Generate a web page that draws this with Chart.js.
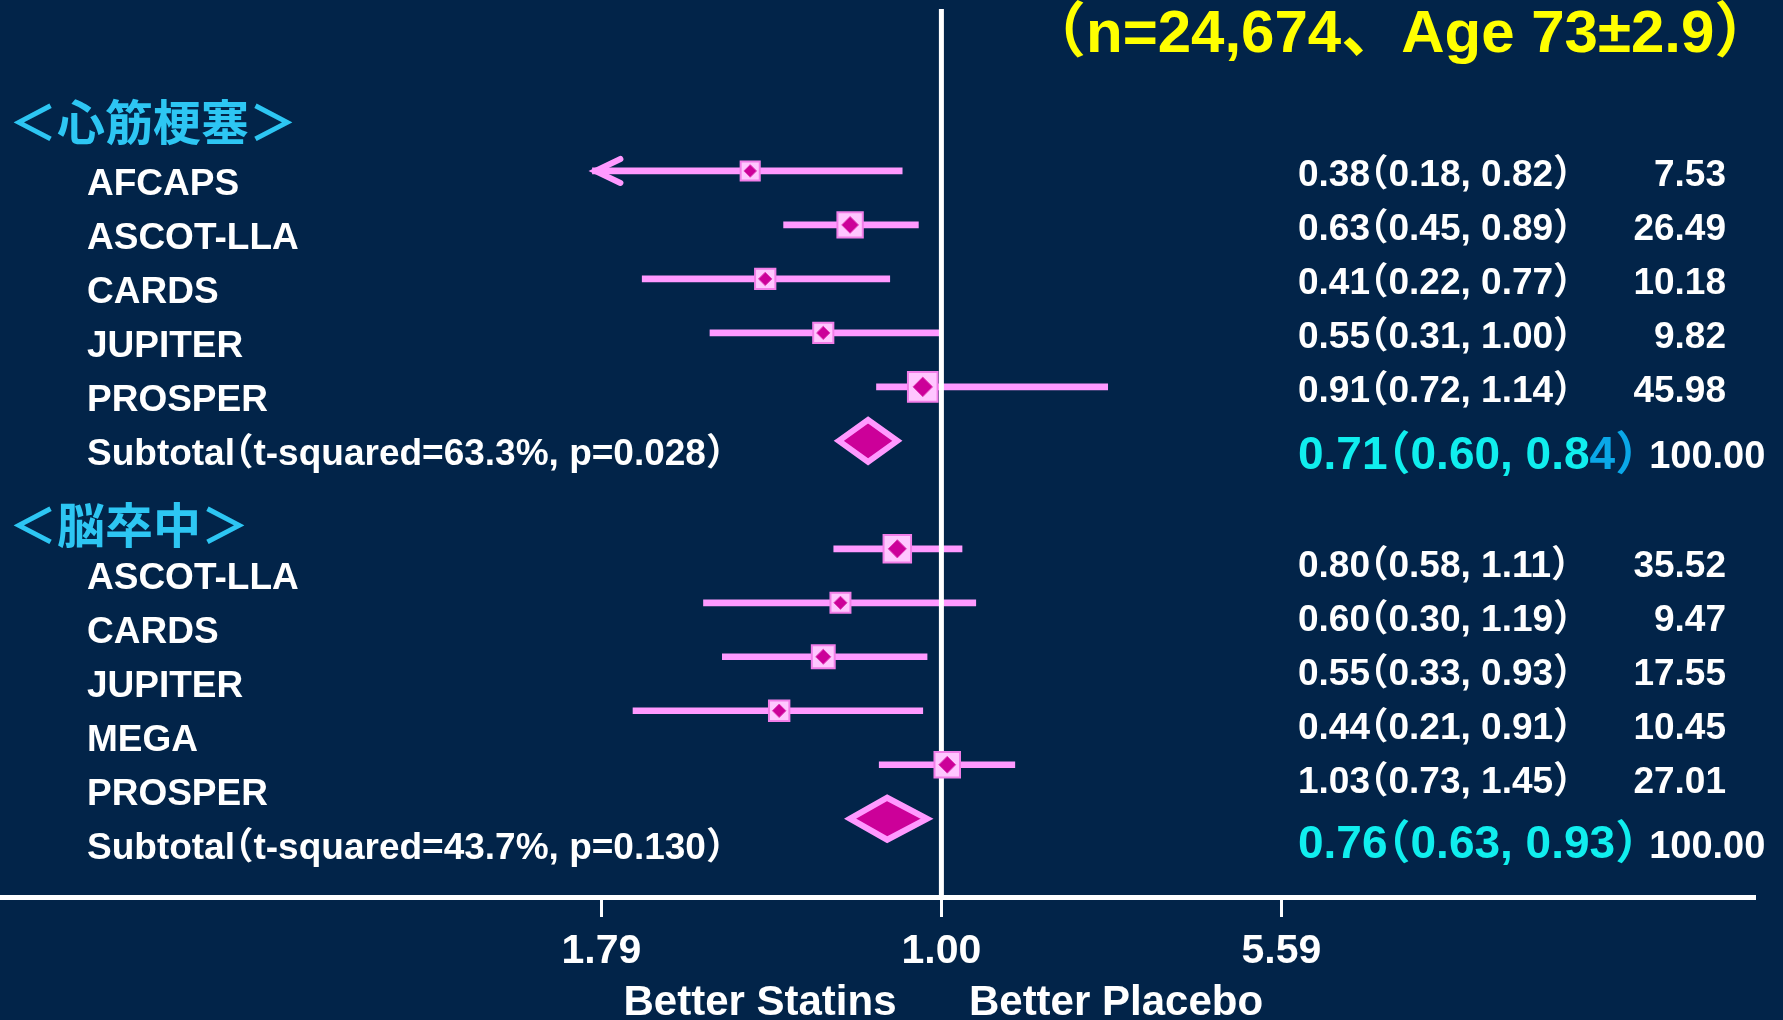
<!DOCTYPE html>
<html>
<head>
<meta charset="utf-8">
<title>Statins forest plot</title>
<script src="https://cdn.jsdelivr.net/npm/chart.js@4.4.1/dist/chart.umd.min.js"></script>
<style>
  html, body { margin: 0; padding: 0; background: #022449; }
  #wrap { width: 1783px; height: 1020px; }
</style>
</head>
<body>
<div id="wrap"><canvas id="forest"></canvas></div>
<script>
// ── Data ──────────────────────────────────────────────────────────────────────

const titleText = "（n=24,674、Age 73±2.9）";
const miHeader = "＜心筋梗塞＞";
const strokeHeader = "＜脳卒中＞";

const miStudies = ["AFCAPS", "ASCOT-LLA", "CARDS", "JUPITER", "PROSPER"];
const miRR = [0.38, 0.63, 0.41, 0.55, 0.91];
const miLow = [0.18, 0.45, 0.22, 0.31, 0.72];
const miHigh = [0.82, 0.89, 0.77, 1.00, 1.14];
const miWeight = [7.53, 26.49, 10.18, 9.82, 45.98];
// the slide draws AFCAPS clipped (arrow) and the PROSPER bar longer than its CI
const miLowDrawn = [0.171, 0.45, 0.22, 0.31, 0.72];
const miHighDrawn = [0.82, 0.89, 0.77, 1.00, 2.32];
const miSubtotal = [0.71, 0.60, 0.84]; // RR, low, high (printed)
const miSubDrawn = [0.69, 0.595, 0.80]; // where the slide puts the diamond
const miSubLabel = "Subtotal（t-squared=63.3%, p=0.028）";

const stStudies = ["ASCOT-LLA", "CARDS", "JUPITER", "MEGA", "PROSPER"];
const stRR = [0.80, 0.60, 0.55, 0.44, 1.03];
const stLow = [0.58, 0.30, 0.33, 0.21, 0.73];
const stHigh = [1.11, 1.19, 0.93, 0.91, 1.45];
const stWeight = [35.52, 9.47, 17.55, 10.45, 27.01];
const stSubtotal = [0.76, 0.63, 0.93];
const stSubLabel = "Subtotal（t-squared=43.7%, p=0.130）";

const totalWeight = "100.00";
const xTicks = [0.179, 1, 5.59];
const xTickLabels = ["1.79", "1.00", "5.59"];
const sideLabels = ["Better Statins", "Better Placebo"];

// ── Layout / style ────────────────────────────────────────────────────────────

const BG = "#022449";
const PINK = "#ff99ff";
const MAGENTA = "#cc0099";
const ST_FIRST = 7; // first stroke row (row 6 holds the header)
const LATIN = "'Liberation Sans', Arial, 'Noto Sans CJK JP', sans-serif";
const CJK = "'Noto Sans CJK JP', sans-serif";

const fmtCI = (r, l, h) => `${r.toFixed(2)}（${l.toFixed(2)}, ${h.toFixed(2)}）`;
const squareSide = (w) => 12 + 2.6 * Math.sqrt(w);

const studyRows = [];
miStudies.forEach((s, i) => studyRows.push({
  y: i, rr: miRR[i], lo: miLowDrawn[i], hi: miHighDrawn[i], w: miWeight[i]
}));
stStudies.forEach((s, i) => studyRows.push({
  y: ST_FIRST + i, rr: stRR[i], lo: stLow[i], hi: stHigh[i], w: stWeight[i]
}));

// draw text, squeezing full-width parens like a proportional JP font does
function drawPalt(ctx, text, x, y, size) {
  let cx = x;
  text.split(/([（）])/).forEach((part) => {
    if (!part) return;
    if (part === "（") {
      ctx.fillText(part, cx - size * 0.5, y);
      cx += size * 0.5;
    } else if (part === "）") {
      ctx.fillText(part, cx, y);
      cx += size * 0.5;
    } else {
      ctx.fillText(part, cx, y);
      cx += ctx.measureText(part).width;
    }
  });
  return cx;
}

const background = {
  id: "background",
  beforeDraw(chart) {
    const ctx = chart.ctx;
    ctx.save();
    ctx.fillStyle = BG;
    ctx.fillRect(0, 0, chart.width, chart.height);
    ctx.restore();
  },
};

// the null line sits over the CI bars but under the squares
const nullLine = {
  id: "nullLine",
  afterDatasetDraw(chart, args) {
    if (args.meta.type !== "bar") return;
    const { ctx, chartArea } = chart;
    const x = chart.scales.x.getPixelForValue(1);
    ctx.save();
    ctx.strokeStyle = "#ffffff";
    ctx.lineWidth = 5;
    ctx.beginPath();
    ctx.moveTo(x, chartArea.top);
    ctx.lineTo(x, chartArea.bottom);
    ctx.stroke();
    ctx.restore();
  },
};

const forestExtras = {
  id: "forestExtras",
  afterDatasetsDraw(chart) {
    const ctx = chart.ctx;
    const xs = chart.scales.x;
    const ys = chart.scales.y;

    ctx.save();

    // pooled diamonds
    [[miSubDrawn, 5], [stSubtotal, ST_FIRST + 5]].forEach(([sub, row]) => {
      const yc = ys.getPixelForValue(row);
      const xc = xs.getPixelForValue(sub[0]);
      const xl = xs.getPixelForValue(sub[1]);
      const xr = xs.getPixelForValue(sub[2]);
      const h = 21;
      ctx.beginPath();
      ctx.moveTo(xl, yc);
      ctx.lineTo(xc, yc - h);
      ctx.lineTo(xr, yc);
      ctx.lineTo(xc, yc + h);
      ctx.closePath();
      ctx.fillStyle = MAGENTA;
      ctx.fill();
      ctx.lineWidth = 6;
      ctx.strokeStyle = PINK;
      ctx.stroke();
    });

    // arrow for the clipped AFCAPS interval
    const ax = xs.getPixelForValue(miLowDrawn[0]) + 3;
    const ay = ys.getPixelForValue(0);
    ctx.strokeStyle = PINK;
    ctx.lineWidth = 6;
    ctx.lineCap = "round";
    ctx.beginPath();
    ctx.moveTo(ax + 25, ay - 12);
    ctx.lineTo(ax, ay);
    ctx.lineTo(ax + 25, ay + 12);
    ctx.stroke();

    // title
    ctx.textBaseline = "middle";
    ctx.textAlign = "left";
    ctx.fillStyle = "#ffff00";
    ctx.font = `bold 60px ${LATIN}`;
    drawPalt(ctx, titleText, 1056, 35, 60);

    // group headers
    ctx.fillStyle = "#2dc6f3";
    ctx.font = `bold 48px ${CJK}`;
    ctx.fillText(miHeader, 9, ys.getPixelForValue(-1) + 5);
    ctx.fillText(strokeHeader, 9, ys.getPixelForValue(ST_FIRST - 1) + 30);

    const groups = [
      { first: 0, names: miStudies, rr: miRR, lo: miLow, hi: miHigh, w: miWeight,
        sub: miSubtotal, subLabel: miSubLabel, dLabel: 14, dNum: 5, dSub: 15, blueTail: 2 },
      { first: ST_FIRST, names: stStudies, rr: stRR, lo: stLow, hi: stHigh, w: stWeight,
        sub: stSubtotal, subLabel: stSubLabel, dLabel: 30, dNum: 18, dSub: 27, blueTail: 0 },
    ];

    groups.forEach((g) => {
      ctx.font = `bold 37px ${LATIN}`;
      ctx.fillStyle = "#ffffff";
      g.names.forEach((name, i) => {
        const yRow = ys.getPixelForValue(g.first + i);
        ctx.textAlign = "left";
        ctx.fillText(name, 87, yRow + g.dLabel);
        drawPalt(ctx, fmtCI(g.rr[i], g.lo[i], g.hi[i]), 1298, yRow + g.dNum, 37);
        ctx.textAlign = "right";
        ctx.fillText(g.w[i].toFixed(2), 1726, yRow + g.dNum);
      });

      const ySub = ys.getPixelForValue(g.first + 5);
      ctx.textAlign = "left";
      drawPalt(ctx, g.subLabel, 87, ySub + g.dLabel, 37);

      const subText = fmtCI(g.sub[0], g.sub[1], g.sub[2]);
      const head = subText.slice(0, subText.length - g.blueTail);
      const tail = subText.slice(subText.length - g.blueTail);
      ctx.font = `bold 46px ${LATIN}`;
      ctx.fillStyle = "#10eeee";
      let cx = drawPalt(ctx, head, 1298, ySub + g.dSub, 46);
      if (tail) {
        ctx.fillStyle = "#0aa8e8";
        cx = drawPalt(ctx, tail, cx, ySub + g.dSub, 46);
      }
      ctx.font = `bold 38px ${LATIN}`;
      ctx.fillStyle = "#ffffff";
      ctx.fillText(totalWeight, cx + 11, ySub + g.dSub + 2);
    });

    // favours labels under the axis
    ctx.font = `bold 42px ${LATIN}`;
    ctx.textAlign = "center";
    ctx.textBaseline = "alphabetic";
    ctx.fillText(sideLabels[0], 760, 1015);
    ctx.fillText(sideLabels[1], 1116, 1015);

    ctx.restore();
  },
};

// ── Chart ─────────────────────────────────────────────────────────────────────

new Chart(document.getElementById("forest"), {
  type: "scatter",
  data: {
    datasets: [
      {
        type: "bar",
        indexAxis: "y",
        data: studyRows.map((r) => ({ x: [r.lo, r.hi], y: r.y })),
        backgroundColor: PINK,
        borderWidth: 0,
        borderSkipped: false,
        barThickness: 6,
        order: 3,
      },
      {
        data: studyRows.map((r) => ({ x: r.rr, y: r.y })),
        pointStyle: "rect",
        pointRadius: (c) => squareSide(studyRows[c.dataIndex].w) / Math.SQRT2,
        backgroundColor: "#ffc6ff",
        borderColor: "#f27ee8",
        borderWidth: 2,
        order: 2,
      },
      {
        data: studyRows.map((r) => ({ x: r.rr, y: r.y })),
        pointStyle: "rectRot",
        pointRadius: (c) => squareSide(studyRows[c.dataIndex].w) * 0.33,
        backgroundColor: MAGENTA,
        borderColor: "#e040b8",
        borderWidth: 1,
        order: 1,
      },
    ],
  },
  options: {
    responsive: true,
    maintainAspectRatio: false,
    animation: false,
    events: [],
    layout: { autoPadding: false, padding: { top: 9, right: 28, left: 0, bottom: 0 } },
    plugins: {
      legend: { display: false },
      tooltip: { enabled: false },
    },
    scales: {
      x: {
        type: "logarithmic",
        min: 0.00853,
        max: 61.4,
        bounds: "data",
        afterBuildTicks: (scale) => {
          scale.ticks = xTicks.map((v) => ({ value: v }));
        },
        afterFit: (scale) => {
          scale.height = 123;
        },
        grid: {
          color: "rgba(0,0,0,0)",
          drawOnChartArea: false,
          tickLength: 20,
          tickColor: "#ffffff",
          tickWidth: 3,
        },
        border: { display: true, color: "#ffffff", width: 5 },
        ticks: {
          autoSkip: false,
          maxRotation: 0,
          padding: 10,
          color: "#ffffff",
          font: { family: LATIN, size: 41, weight: "bold" },
          callback: (v, i) => xTickLabels[i],
        },
      },
      y: {
        type: "linear",
        display: false,
        reverse: true,
        offset: false,
        min: -3,
        max: 13.45,
      },
    },
  },
  plugins: [background, nullLine, forestExtras],
});
</script>
</body>
</html>
